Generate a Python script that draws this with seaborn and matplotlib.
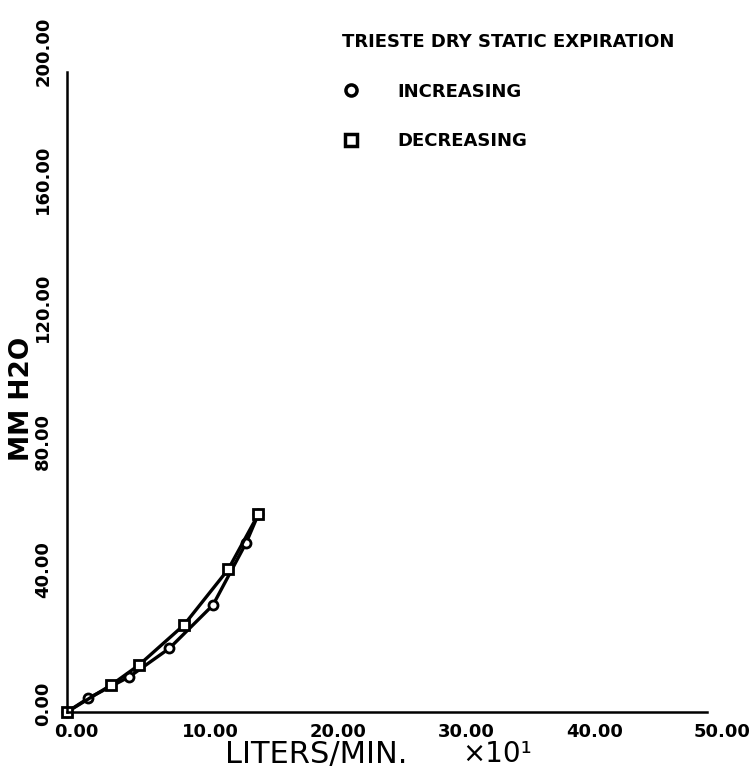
import matplotlib
matplotlib.use("Agg")
import matplotlib.pyplot as plt
import seaborn as sns
import pandas as pd
from matplotlib.transforms import ScaledTranslation
from matplotlib.lines import Line2D

# ---- data ----
inc_x = [0.0, 1.66, 4.87, 8.0, 11.4, 14.0, 14.95]
inc_y = [0.0, 4.3, 11.0, 19.9, 33.4, 52.9, 61.8]
dec_x = [14.95, 12.6, 9.14, 5.63, 3.44, 0.0]
dec_y = [61.8, 44.6, 27.2, 14.7, 8.4, 0.0]
series_names = ["INCREASING", "DECREASING"]
x_ticks = [0, 10, 20, 30, 40, 50]
x_tick_labels = ["0.00", "10.00", "20.00", "30.00", "40.00", "50.00"]
y_ticks = [0, 40, 80, 120, 160, 200]
y_tick_labels = ["0.00", "40.00", "80.00", "120.00", "160.00", "200.00"]
title_text = "TRIESTE DRY STATIC EXPIRATION"
x_label = "LITERS/MIN."
x_mult = "×10¹"
y_label = "MM H2O"

df = pd.DataFrame({
    "x": inc_x + dec_x,
    "y": inc_y + dec_y,
    "series": [series_names[0]] * len(inc_x) + [series_names[1]] * len(dec_x),
})

sns.set_style("white")
plt.rcParams["font.family"] = ["DejaVu Sans"]
plt.rcParams["text.color"] = "black"
plt.rcParams["axes.labelcolor"] = "black"
plt.rcParams["xtick.color"] = "black"
plt.rcParams["ytick.color"] = "black"

fig = plt.figure(figsize=(7.56, 7.70), dpi=100)
ax = fig.add_axes([67 / 756, 58 / 770, 640 / 756, 640 / 770])

sns.lineplot(
    data=df, x="x", y="y", hue="series", style="series",
    markers={"INCREASING": "o", "DECREASING": "s"}, dashes=False,
    palette={"INCREASING": "black", "DECREASING": "black"},
    sort=False, estimator=None, ax=ax, legend=False,
    linewidth=2.4, markersize=6.5, markerfacecolor="white",
    markeredgecolor="black", markeredgewidth=2.0, clip_on=False,
)

ax.set_xlim(0, 50)
ax.set_ylim(0, 200)
for s in ["top", "right"]:
    ax.spines[s].set_visible(False)
for s in ["left", "bottom"]:
    ax.spines[s].set_color("black")
    ax.spines[s].set_linewidth(1.8)

ax.set_xticks(x_ticks)
ax.set_xticklabels(x_tick_labels, fontsize=13, fontweight="bold", ha="left",
                   color="black")
ax.set_yticks(y_ticks)
ax.set_yticklabels(y_tick_labels, fontsize=13, fontweight="bold",
                   rotation=90, va="bottom", ha="right", color="black")
ax.tick_params(axis="both", direction="out", length=3.6, width=1.8,
               color="black", labelcolor="black")
ax.tick_params(axis="x", pad=4)
ax.tick_params(axis="y", pad=7)

xoff = ScaledTranslation(-0.13, 0, fig.dpi_scale_trans)
for lab in ax.get_xticklabels():
    lab.set_transform(lab.get_transform() + xoff)
yoff = ScaledTranslation(0, -0.14, fig.dpi_scale_trans)
for lab in ax.get_yticklabels():
    lab.set_transform(lab.get_transform() + yoff)

ax.set_xlabel(x_label, fontsize=22, color="black")
ax.xaxis.set_label_coords(0.39, -0.044)
ax.set_ylabel(y_label, fontsize=19, color="black", fontweight="bold")
ax.yaxis.set_label_coords(-0.05, 0.49)
ax.text(0.672, -0.044, x_mult, transform=ax.transAxes, ha="center", va="top",
        fontsize=20, color="black")

handles = [
    Line2D([], [], marker="o", ls="none", mfc="white", mec="black", mew=2.5, ms=8),
    Line2D([], [], marker="s", ls="none", mfc="white", mec="black", mew=2.5, ms=8),
]
leg = ax.legend(handles, series_names, title=title_text,
                loc="upper left", bbox_to_anchor=(342 / 756, 1 - 33 / 770),
                bbox_transform=fig.transFigure, frameon=False,
                borderpad=0, borderaxespad=0, handlelength=1.0,
                handletextpad=2.05, labelspacing=1.75, alignment="left",
                prop={"size": 13, "weight": "bold"},
                title_fontproperties={"size": 13, "weight": "bold"})
for t in leg.get_texts():
    t.set_color("black")
leg.get_title().set_color("black")

fig.savefig("out.png", dpi=100, facecolor="white")
